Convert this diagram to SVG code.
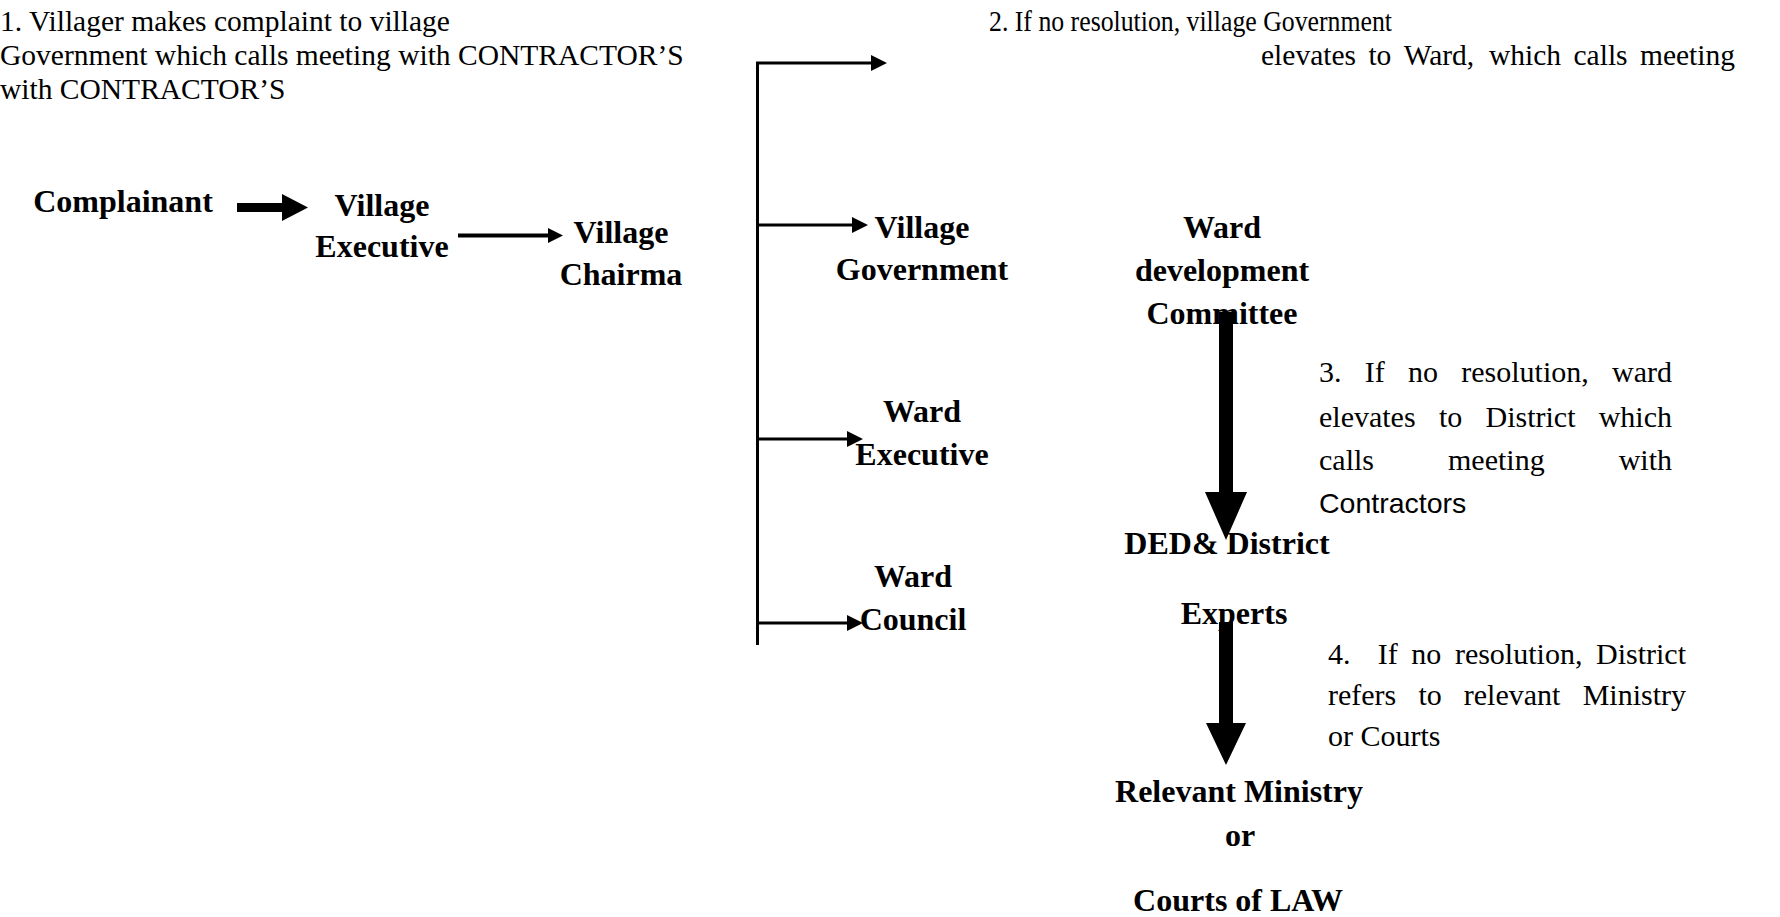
<svg xmlns="http://www.w3.org/2000/svg" width="1780" height="917" viewBox="0 0 1780 917">
<style>
.n{font-family:"Liberation Serif","Times New Roman",serif;font-size:29.5px;fill:#000}
.m{font-family:"Liberation Serif","Times New Roman",serif;font-size:30px;fill:#000}
.s{font-family:"Liberation Sans",Arial,sans-serif;font-size:28.5px;fill:#000}
.b{font-family:"Liberation Serif","Times New Roman",serif;font-size:32px;font-weight:bold;fill:#000;text-anchor:middle}
.ln{stroke:#000;stroke-width:3;fill:none}
.e{text-anchor:end}
</style>
<defs>
<marker id="ah" markerUnits="userSpaceOnUse" markerWidth="16" markerHeight="16" refX="8" refY="8" orient="auto">
<path d="M0,0 L16,8 L0,16 z" fill="#000"/>
</marker>
</defs>
<rect width="1780" height="917" fill="#fff"/>
<g id="note1">
<text class="n" x="0" y="31">1. Villager makes complaint to village</text>
<text class="n" x="0" y="65">Government which calls meeting with CONTRACTOR’S</text>
<text class="n" x="0" y="99">with CONTRACTOR’S</text>
</g>
<g id="note2">
<text class="n" x="989" y="31" textLength="403" lengthAdjust="spacingAndGlyphs">2. If no resolution, village Government</text>
<text class="n" y="65"><tspan x="1261">elevates</tspan><tspan x="1368.4">to</tspan><tspan x="1403.7">Ward,</tspan><tspan x="1489">which</tspan><tspan x="1573.5">calls</tspan></text>
<text class="n e" x="1735" y="65">meeting</text>
</g>
<g id="note3">
<text class="m" y="382"><tspan x="1319">3.</tspan><tspan x="1364.8">If</tspan><tspan x="1408">no</tspan><tspan x="1461.3">resolution,</tspan></text>
<text class="m e" x="1672" y="382">ward</text>
<text class="m" y="427"><tspan x="1319">elevates</tspan><tspan x="1438.9">to</tspan><tspan x="1485.5">District</tspan></text>
<text class="m e" x="1672" y="427">which</text>
<text class="m" y="470"><tspan x="1319">calls</tspan><tspan x="1448">meeting</tspan></text>
<text class="m e" x="1672" y="470">with</text>
<text class="s" x="1319" y="513">Contractors</text>
</g>
<g id="note4">
<text class="m" y="664"><tspan x="1328">4.</tspan><tspan x="1377.7">If</tspan><tspan x="1411.3">no</tspan><tspan x="1454.9">resolution,</tspan></text>
<text class="m e" x="1686" y="664">District</text>
<text class="m" y="705"><tspan x="1328">refers</tspan><tspan x="1418.4">to</tspan><tspan x="1463.8">relevant</tspan></text>
<text class="m e" x="1686" y="705">Ministry</text>
<text class="m" x="1328" y="746">or Courts</text>
</g>
<g id="complainant"><text class="b" x="123" y="212">Complainant</text></g>
<g id="village-executive"><text class="b" x="382" y="216">Village</text><text class="b" x="382" y="257">Executive</text></g>
<g id="village-chairman"><text class="b" x="621" y="243">Village</text><text class="b" x="621" y="285">Chairma</text></g>
<g id="village-government"><text class="b" x="922" y="238">Village</text><text class="b" x="922" y="280">Government</text></g>
<g id="ward-executive"><text class="b" x="922" y="422">Ward</text><text class="b" x="922" y="465">Executive</text></g>
<g id="ward-council"><text class="b" x="913" y="587">Ward</text><text class="b" x="913" y="630">Council</text></g>
<g id="ward-dev-committee"><text class="b" x="1222" y="238">Ward</text><text class="b" x="1222" y="281">development</text><text class="b" x="1222" y="324">Committee</text></g>
<g id="ded-district"><text class="b" x="1227" y="554">DED&amp; District</text><text class="b" x="1234" y="624">Experts</text></g>
<g id="ministry-courts"><text class="b" x="1239" y="802">Relevant Ministry</text><text class="b" x="1240" y="846">or</text><text class="b" x="1238" y="911">Courts of LAW</text></g>
<g id="connectors">
<polygon points="237,203 282,203 282,194 308,207.5 282,221 282,212 237,212" fill="#000"/>
<line x1="458" y1="235.5" x2="549" y2="235.5" stroke="#000" stroke-width="4"/>
<polygon points="548,228 563,235.5 548,243" fill="#000"/>
<line class="ln" x1="757.5" y1="62" x2="757.5" y2="645"/>
<line class="ln" x1="756" y1="63" x2="879" y2="63" marker-end="url(#ah)"/>
<line class="ln" x1="757.5" y1="225" x2="860" y2="225" marker-end="url(#ah)"/>
<line class="ln" x1="757.5" y1="439" x2="855" y2="439" marker-end="url(#ah)"/>
<line class="ln" x1="757.5" y1="623" x2="855" y2="623" marker-end="url(#ah)"/>
<polygon points="1219,312 1233,312 1233,492 1247,492 1226,540 1205,492 1219,492" fill="#000"/>
<polygon points="1219,622 1233,622 1233,723 1246,723 1226,765 1206,723 1219,723" fill="#000"/>
</g>
</svg>
